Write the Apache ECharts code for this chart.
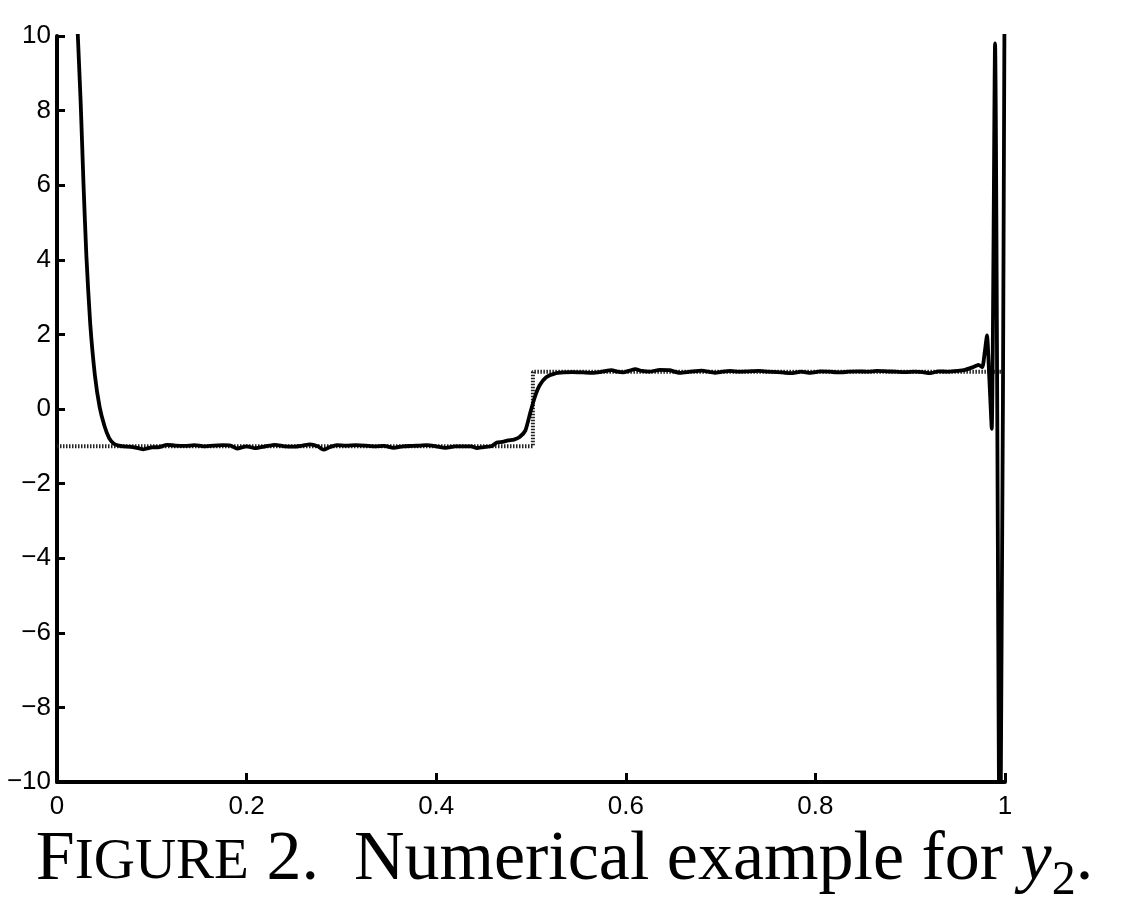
<!DOCTYPE html>
<html>
<head>
<meta charset="utf-8">
<script src="https://cdn.jsdelivr.net/npm/echarts@6/dist/echarts.min.js"></script>
<style>
html,body{margin:0;padding:0;background:#fff;}
#chart{width:1129px;height:908px;}
</style>
</head>
<body>
<div id="chart"></div>
<script>
// Numerical solution y2 (solid curve)
const solX = [0.020,0.022,0.025,0.028,0.031,0.035,0.040,0.045,0.050,0.055,0.060,0.065,0.070,0.080,0.091,0.100,0.108,0.116,0.125,0.135,0.145,0.155,0.165,0.175,0.183,0.190,0.200,0.209,0.220,0.230,0.240,0.250,0.259,0.267,0.275,0.281,0.288,0.295,0.305,0.315,0.325,0.335,0.345,0.355,0.365,0.375,0.383,0.390,0.400,0.410,0.420,0.430,0.437,0.443,0.450,0.458,0.464,0.470,0.476,0.482,0.488,0.494,0.499,0.504,0.509,0.516,0.525,0.535,0.544,0.555,0.565,0.575,0.585,0.591,0.597,0.604,0.610,0.617,0.625,0.636,0.646,0.657,0.668,0.680,0.694,0.702,0.710,0.720,0.730,0.740,0.750,0.760,0.768,0.776,0.785,0.795,0.805,0.815,0.825,0.835,0.845,0.855,0.865,0.875,0.885,0.895,0.905,0.913,0.921,0.930,0.940,0.950,0.958,0.966,0.972,0.976,0.9785,0.981,0.9835,0.986,0.9895,0.9947,1.000];
const solY = [11.5,10.0,8.2,6.0,4.1,2.3,0.9,0.05,-0.45,-0.78,-0.93,-0.98,-1.0,-1.02,-1.08,-1.03,-1.02,-0.96,-0.98,-0.99,-0.97,-1.0,-0.98,-0.97,-0.98,-1.06,-1.0,-1.05,-1.0,-0.96,-1.0,-1.01,-0.98,-0.95,-1.0,-1.09,-1.02,-0.97,-0.98,-0.97,-0.98,-1.0,-0.99,-1.04,-1.0,-0.99,-0.98,-0.97,-1.0,-1.04,-1.0,-1.0,-1.0,-1.05,-1.02,-1.0,-0.9,-0.88,-0.84,-0.82,-0.75,-0.58,-0.12,0.32,0.63,0.85,0.95,0.98,0.99,0.98,0.97,1.0,1.04,1.0,0.98,1.03,1.07,1.02,1.0,1.05,1.04,0.97,1.0,1.03,0.97,1.0,1.02,1.0,1.01,1.02,1.0,0.99,0.97,0.96,1.0,0.97,1.01,1.0,0.98,1.0,1.01,1.0,1.02,1.01,1.0,0.99,1.0,0.99,0.96,1.01,1.0,1.02,1.05,1.12,1.18,1.12,1.5,1.97,0.8,-0.53,9.8,-14,14];
// Exact step solution (dotted)
const stepX = [0, 0.502, 0.502, 1];
const stepY = [-1, -1, 1, 1];
// Axis ticks
const xTicks = [0, 0.2, 0.4, 0.6, 0.8, 1];
const yTicks = [-10, -8, -6, -4, -2, 0, 2, 4, 6, 8, 10];

const chart = echarts.init(document.getElementById('chart'), null, {renderer: 'canvas'});
const solData = solX.map((x, i) => [x, solY[i]]);
const stepData = stepX.map((x, i) => [x, stepY[i]]);

const cap = {fontFamily: 'Liberation Serif', fontWeight: 'normal', color: '#000', lineHeight: 80};
chart.setOption({
  animation: false,
  backgroundColor: '#fff',
  grid: {left: 57, right: 124, top: 36, bottom: 126, containLabel: false},
  title: {
    left: 'center',
    top: 816,
    text: '{big|F}{sc|IGURE}{big| 2.  Numerical example for }{it|y}{sub|2}{big|.}',
    textStyle: {
      fontWeight: 'normal',
      rich: {
        big: Object.assign({fontSize: 70}, cap),
        sc: Object.assign({fontSize: 57, padding: [4,0,0,0]}, cap),
        it: Object.assign({fontSize: 70, fontStyle: 'italic'}, cap),
        sub: Object.assign({fontSize: 48, padding: [40,0,0,0]}, cap)
      }
    }
  },
  xAxis: {
    type: 'value', min: xTicks[0], max: xTicks[xTicks.length-1], interval: 0.2,
    splitLine: {show: false},
    axisLine: {show: true, onZero: false, lineStyle: {color: '#000', width: 4}},
    axisTick: {show: true, inside: true, length: 9, lineStyle: {color: '#000', width: 3}},
    axisLabel: {color: '#000', fontFamily: 'Liberation Sans', fontSize: 26, margin: 12,
      formatter: v => String(+v.toFixed(1))}
  },
  yAxis: {
    type: 'value', min: yTicks[0], max: yTicks[yTicks.length-1], interval: 2,
    splitLine: {show: false},
    axisLine: {show: true, onZero: false, lineStyle: {color: '#000', width: 4}},
    axisTick: {show: true, inside: true, length: 8, lineStyle: {color: '#000', width: 3}},
    axisLabel: {color: '#000', fontFamily: 'Liberation Sans', fontSize: 26, margin: 6,
      formatter: v => String(v).replace('-', '\u2212')}
  },
  series: [
    {
      type: 'line', data: stepData, showSymbol: false, symbol: 'none', clip: true,
      lineStyle: {color: '#222', width: 4, type: [1.5, 1.5]}, z: 2
    },
    {
      type: 'line', data: solData, showSymbol: false, symbol: 'none', clip: true,
      smooth: 0.2,
      lineStyle: {color: '#000', width: 3.8, join: 'round', cap: 'round'}, z: 3
    }
  ]
});
</script>
</body>
</html>
